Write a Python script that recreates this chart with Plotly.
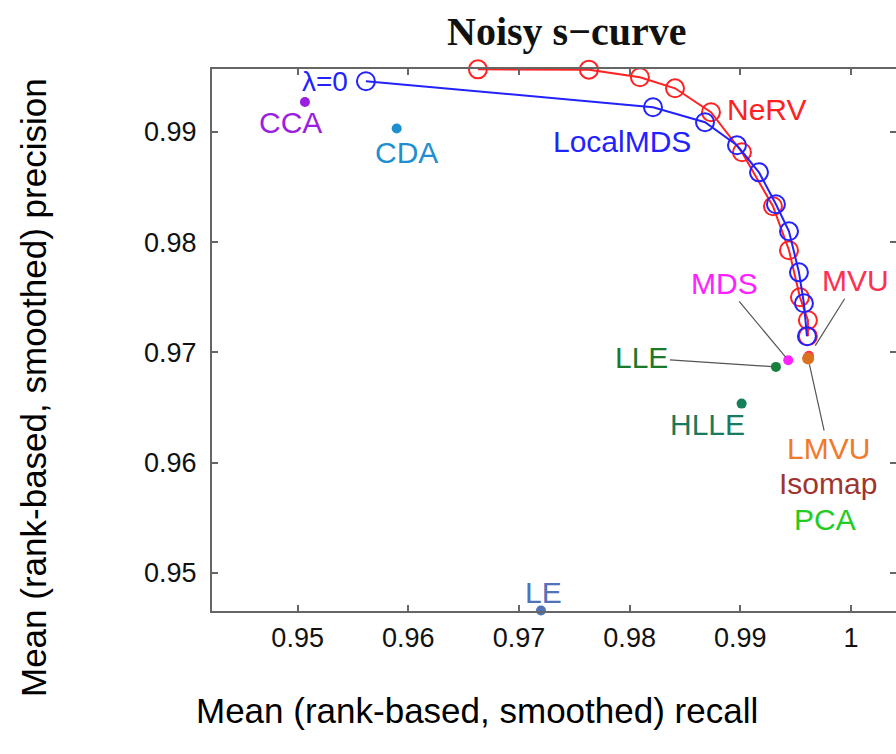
import plotly.graph_objects as go

# ---- data ----
localmds_recall = [0.95617, 0.98211, 0.98681, 0.98970, 0.99169, 0.99322, 0.99440, 0.99530, 0.99575, 0.99602]
localmds_precision = [0.99460, 0.99224, 0.99088, 0.98879, 0.98634, 0.98344, 0.98099, 0.97727, 0.97446, 0.97147]

nerv_recall = [0.96629, 0.97632, 0.98093, 0.98410, 0.98735, 0.99015, 0.99295, 0.99440, 0.99539, 0.99611, 0.99611]
nerv_precision = [0.99568, 0.99565, 0.99496, 0.99396, 0.99179, 0.98816, 0.98326, 0.97927, 0.97501, 0.97292, 0.97147]

methods = ["PCA", "Isomap", "MVU", "CCA", "CDA", "LE", "LLE", "HLLE", "MDS", "LMVU"]
method_recall = [0.99610, 0.99610, 0.99620, 0.95066, 0.95895, 0.97199, 0.99322, 0.99012, 0.99433, 0.99613]
method_precision = [0.96950, 0.96950, 0.96970, 0.99272, 0.99031, 0.94660, 0.96869, 0.96536, 0.96929, 0.96945]

x_ticks = [0.95, 0.96, 0.97, 0.98, 0.99, 1.0]
x_tick_labels = ["0.95", "0.96", "0.97", "0.98", "0.99", "1"]
y_ticks = [0.95, 0.96, 0.97, 0.98, 0.99]
y_tick_labels = ["0.95", "0.96", "0.97", "0.98", "0.99"]

# ---- styles ----
method_colors = {
    "PCA": "#22cc22", "Isomap": "#a0342e", "MVU": "#ff3050", "CCA": "#9a1fe0",
    "CDA": "#1f8fd0", "LE": "#4f72b8", "LLE": "#17803a", "HLLE": "#15805a",
    "MDS": "#ff22ff", "LMVU": "#d9711e",
}
label_colors = dict(method_colors)
label_colors["LMVU"] = "#f07a2a"
label_colors["LLE"] = "#1a7a2a"
label_colors["HLLE"] = "#187a60"

BLUE = "#2222ff"
RED = "#ff2222"
SANS = "Liberation Sans, Arial, sans-serif"
LABEL_SIZE = 30

fig = go.Figure()

fig.add_trace(go.Scatter(
    x=nerv_recall, y=nerv_precision, mode="lines+markers",
    line=dict(color=RED, width=2),
    marker=dict(symbol="circle-open", size=18, color=RED, line=dict(width=2, color=RED)),
    cliponaxis=False, showlegend=False, hoverinfo="skip"))

fig.add_trace(go.Scatter(
    x=localmds_recall, y=localmds_precision, mode="lines+markers",
    line=dict(color=BLUE, width=2),
    marker=dict(symbol="circle-open", size=18, color=BLUE, line=dict(width=2, color=BLUE)),
    cliponaxis=False, showlegend=False, hoverinfo="skip"))

for m, xv, yv in zip(methods, method_recall, method_precision):
    fig.add_trace(go.Scatter(
        x=[xv], y=[yv], mode="markers",
        marker=dict(size=12 if m == "LMVU" else 10, color=method_colors[m]),
        cliponaxis=False, showlegend=False, hoverinfo="skip"))

# empty trace for right-hand tick marks
fig.add_trace(go.Scatter(x=[], y=[], yaxis="y2", showlegend=False))

idx = {m: i for i, m in enumerate(methods)}

# plain labels: (method, xshift, yshift)
plain = [("CCA", -14, -21), ("CDA", 10, -24), ("LE", 2, 18), ("HLLE", -34, -21),
         ("Isomap", 20, -126), ("PCA", 17, -162)]
for m, xs, ys in plain:
    i = idx[m]
    fig.add_annotation(x=method_recall[i], y=method_precision[i], text=m, showarrow=False,
                       xshift=xs, yshift=ys, font=dict(family=SANS, size=LABEL_SIZE, color=label_colors[m]))

# labels with leader lines: (method, ax, ay, standoff)
leader = [("MDS", -64, -77, 4), ("LLE", -134, -9, 4), ("MVU", 47, -75, 12), ("LMVU", 20, 90, 6)]
for m, ax, ay, so in leader:
    i = idx[m]
    fig.add_annotation(x=method_recall[i], y=method_precision[i], text=m, showarrow=True,
                       ax=ax, ay=ay, arrowhead=0, arrowwidth=1.2, arrowcolor="#555555", standoff=so,
                       font=dict(family=SANS, size=LABEL_SIZE, color=label_colors[m]))

# curve labels
fig.add_annotation(x=localmds_recall[0], y=localmds_precision[0], text="λ=0", showarrow=False,
                   xshift=-41, yshift=0, font=dict(family=SANS, size=LABEL_SIZE - 2, color=BLUE))
fig.add_annotation(x=localmds_recall[2], y=localmds_precision[2], text="LocalMDS", showarrow=False,
                   xshift=-83, yshift=-19, font=dict(family=SANS, size=LABEL_SIZE, color=BLUE))
fig.add_annotation(x=nerv_recall[4], y=nerv_precision[4], text="NeRV", showarrow=False,
                   xshift=56, yshift=3, font=dict(family=SANS, size=LABEL_SIZE, color=RED))

W, H = 896, 754
PL, PT, PB = 212, 69, 611          # plot area on screen (left, top, bottom)
PR = 896
pw, ph = PR - PL, PB - PT


def px(sx):
    return (sx - PL) / pw


def py(sy):
    return (PB - sy) / ph


fig.add_annotation(x=px(566), y=py(31), xref="paper", yref="paper", text="<b>Noisy s−curve</b>",
                   xanchor="center", yanchor="middle", showarrow=False,
                   font=dict(family="Liberation Serif, Times New Roman, serif", size=40, color="#111"))
fig.add_annotation(x=px(477), y=py(710), xref="paper", yref="paper",
                   text="Mean (rank-based, smoothed) recall", xanchor="center", yanchor="middle",
                   showarrow=False, font=dict(family=SANS, size=35, color="#000"))
fig.add_annotation(x=px(33), y=py(388), xref="paper", yref="paper", textangle=-90,
                   text="Mean (rank-based, smoothed) precision", xanchor="center", yanchor="middle",
                   showarrow=False, font=dict(family=SANS, size=35, color="#000"))

xmin, xmax = 0.94226, 1.00407
ymin, ymax = 0.94655, 0.99571

fig.update_layout(
    width=W, height=H,
    margin=dict(l=PL, r=W - PR, t=PT, b=H - PB, pad=0),
    plot_bgcolor="white", paper_bgcolor="white",
    xaxis=dict(range=[xmin, xmax], domain=[0, 1], tickvals=x_ticks, ticktext=x_tick_labels,
               showgrid=False, zeroline=False, showline=True, linecolor="#666", linewidth=2,
               mirror="ticks", ticks="inside", ticklen=6, tickwidth=1.5, tickcolor="#666",
               tickfont=dict(family=SANS, size=27, color="#111"), ticklabelstandoff=2),
    yaxis=dict(range=[ymin, ymax], tickvals=y_ticks, ticktext=y_tick_labels,
               showgrid=False, zeroline=False, showline=True, linecolor="#666", linewidth=2,
               mirror=False, ticks="inside", ticklen=6, tickwidth=1.5, tickcolor="#666",
               tickfont=dict(family=SANS, size=27, color="#111"), ticklabelstandoff=8),
    yaxis2=dict(range=[ymin, ymax], overlaying="y", side="right", anchor="x", tickvals=y_ticks,
                showticklabels=False, showgrid=False, zeroline=False, showline=False,
                ticks="inside", ticklen=6, tickwidth=1.5, tickcolor="#666"),
)

fig.write_html("out.html", config={"displayModeBar": False},
               post_script="document.body.style.margin='0px';document.body.style.overflow='hidden';")
